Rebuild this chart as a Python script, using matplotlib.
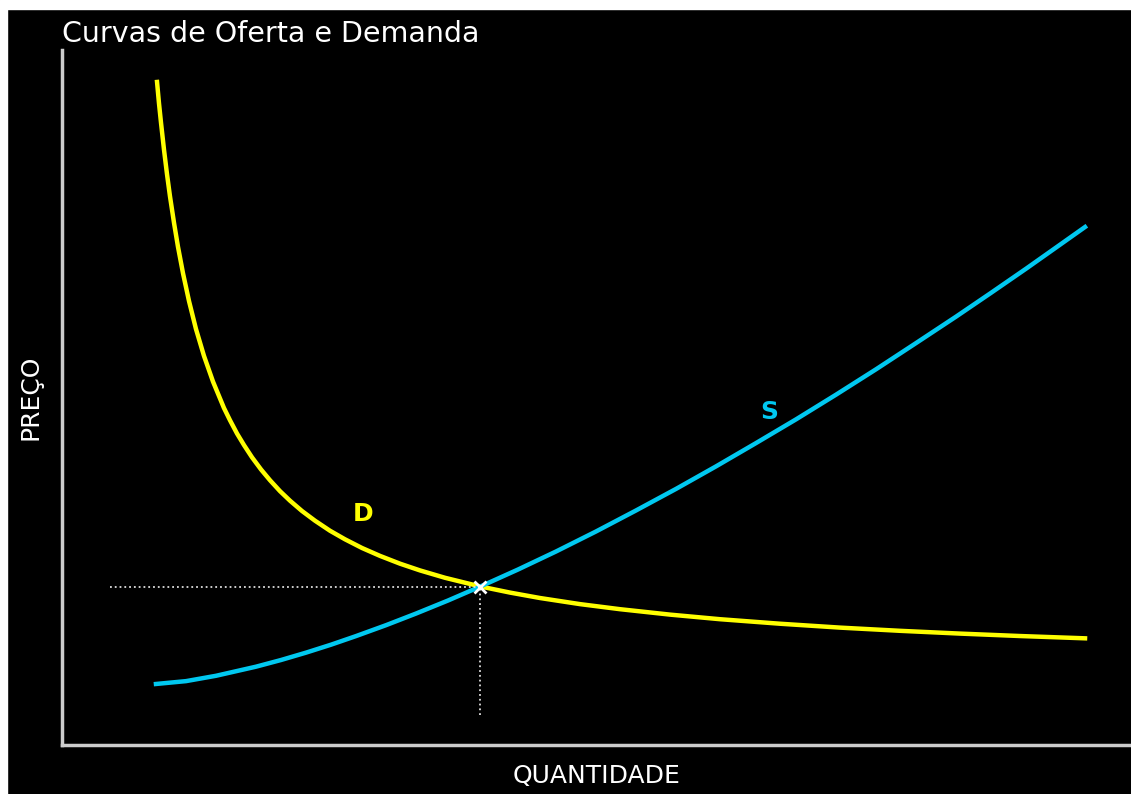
import matplotlib.pyplot as plt
from matplotlib.patches import Rectangle
import numpy as np

# ---- dados ----
q_demanda = [0.889, 0.907, 0.926, 0.954, 0.982, 1.010, 1.048, 1.085, 1.132, 1.188,
             1.253, 1.328, 1.413, 1.515, 1.572, 1.637, 1.703, 1.777, 1.862, 1.946,
             2.039, 2.133, 2.245, 2.367, 2.507, 2.647, 2.806, 2.975, 3.162, 3.349,
             3.583, 3.910, 4.191, 4.471, 4.846, 5.220, 5.688, 6.155, 6.716, 7.278,
             7.839, 8.400, 8.962, 9.570]
p_demanda = [9.540, 9.237, 8.955, 8.567, 8.216, 7.896, 7.511, 7.168, 6.787, 6.388,
             5.987, 5.599, 5.227, 4.849, 4.671, 4.482, 4.314, 4.140, 3.964, 3.809,
             3.653, 3.515, 3.367, 3.227, 3.083, 2.960, 2.835, 2.721, 2.609, 2.512,
             2.406, 2.282, 2.193, 2.115, 2.027, 1.954, 1.876, 1.810, 1.745, 1.689,
             1.643, 1.603, 1.568, 1.535]

q_oferta = [0.879, 1.160, 1.441, 1.815, 2.049, 2.283, 2.516, 2.750, 3.031, 3.311,
            3.611, 3.910, 4.266, 4.621, 4.995, 5.369, 5.744, 6.118, 6.492, 6.866,
            7.240, 7.615, 7.989, 8.363, 8.690, 9.018, 9.298, 9.570]
p_oferta = [0.878, 0.919, 0.996, 1.127, 1.223, 1.329, 1.443, 1.567, 1.724, 1.891,
            2.079, 2.278, 2.525, 2.784, 3.072, 3.374, 3.685, 4.009, 4.344, 4.685,
            5.040, 5.406, 5.783, 6.163, 6.505, 6.853, 7.157, 7.453]

q_eq, p_eq = 3.910, 2.280
q_min_linha, p_min_linha = 0.449, 0.432

cor_d = "#ffff00"
cor_s = "#00c8f0"

# ===============================  fig  ====================================
W, H = 1131, 794
fig = plt.figure(figsize=(W / 100, H / 100), dpi=100, facecolor="black")
ax = fig.add_axes([62 / W, 1 - 745 / H, (W - 62) / W, (745 - 50) / H])
ax.set_facecolor("black")

ax.plot(q_demanda, p_demanda, color=cor_d, lw=3.2, solid_joinstyle="round")
ax.plot(q_oferta, p_oferta, color=cor_s, lw=3.2, solid_joinstyle="round")

ax.plot([q_min_linha, q_eq], [p_eq, p_eq], color="#dddddd", lw=1.3, ls=":")
ax.plot([q_eq, q_eq], [p_min_linha, p_eq], color="#dddddd", lw=1.3, ls=":")
ax.plot(q_eq, p_eq, marker="x", color="white", ms=8, mew=2)

ax.text(2.816, 3.324, "D", color=cor_d, fontsize=18, fontweight="bold", ha="center", va="center")
ax.text(6.614, 4.791, "S", color=cor_s, fontsize=18, fontweight="bold", ha="center", va="center")

ax.set_xlim(0, 10)
ax.set_ylim(0, 10)
ax.set_xticks([])
ax.set_yticks([])
for s in ["top", "right"]:
    ax.spines[s].set_visible(False)
for s in ["left", "bottom"]:
    ax.spines[s].set_color("#cccccc")
    ax.spines[s].set_linewidth(2.5)

ax.set_xlabel("QUANTIDADE", color="white", fontsize=18, labelpad=14)
ax.set_ylabel("PREÇO", color="white", fontsize=18, labelpad=14)
ax.set_title("Curvas de Oferta e Demanda", color="white", fontsize=20.5, loc="left", pad=6)

# faixas brancas nas bordas
fig.add_artist(Rectangle((0, 0), 7 / W, 1, transform=fig.transFigure, color="white", zorder=10))
fig.add_artist(Rectangle((0, 1 - 9 / H), 1, 9 / H, transform=fig.transFigure, color="white", zorder=10))

fig.savefig("out.png", dpi=100, facecolor="black")
